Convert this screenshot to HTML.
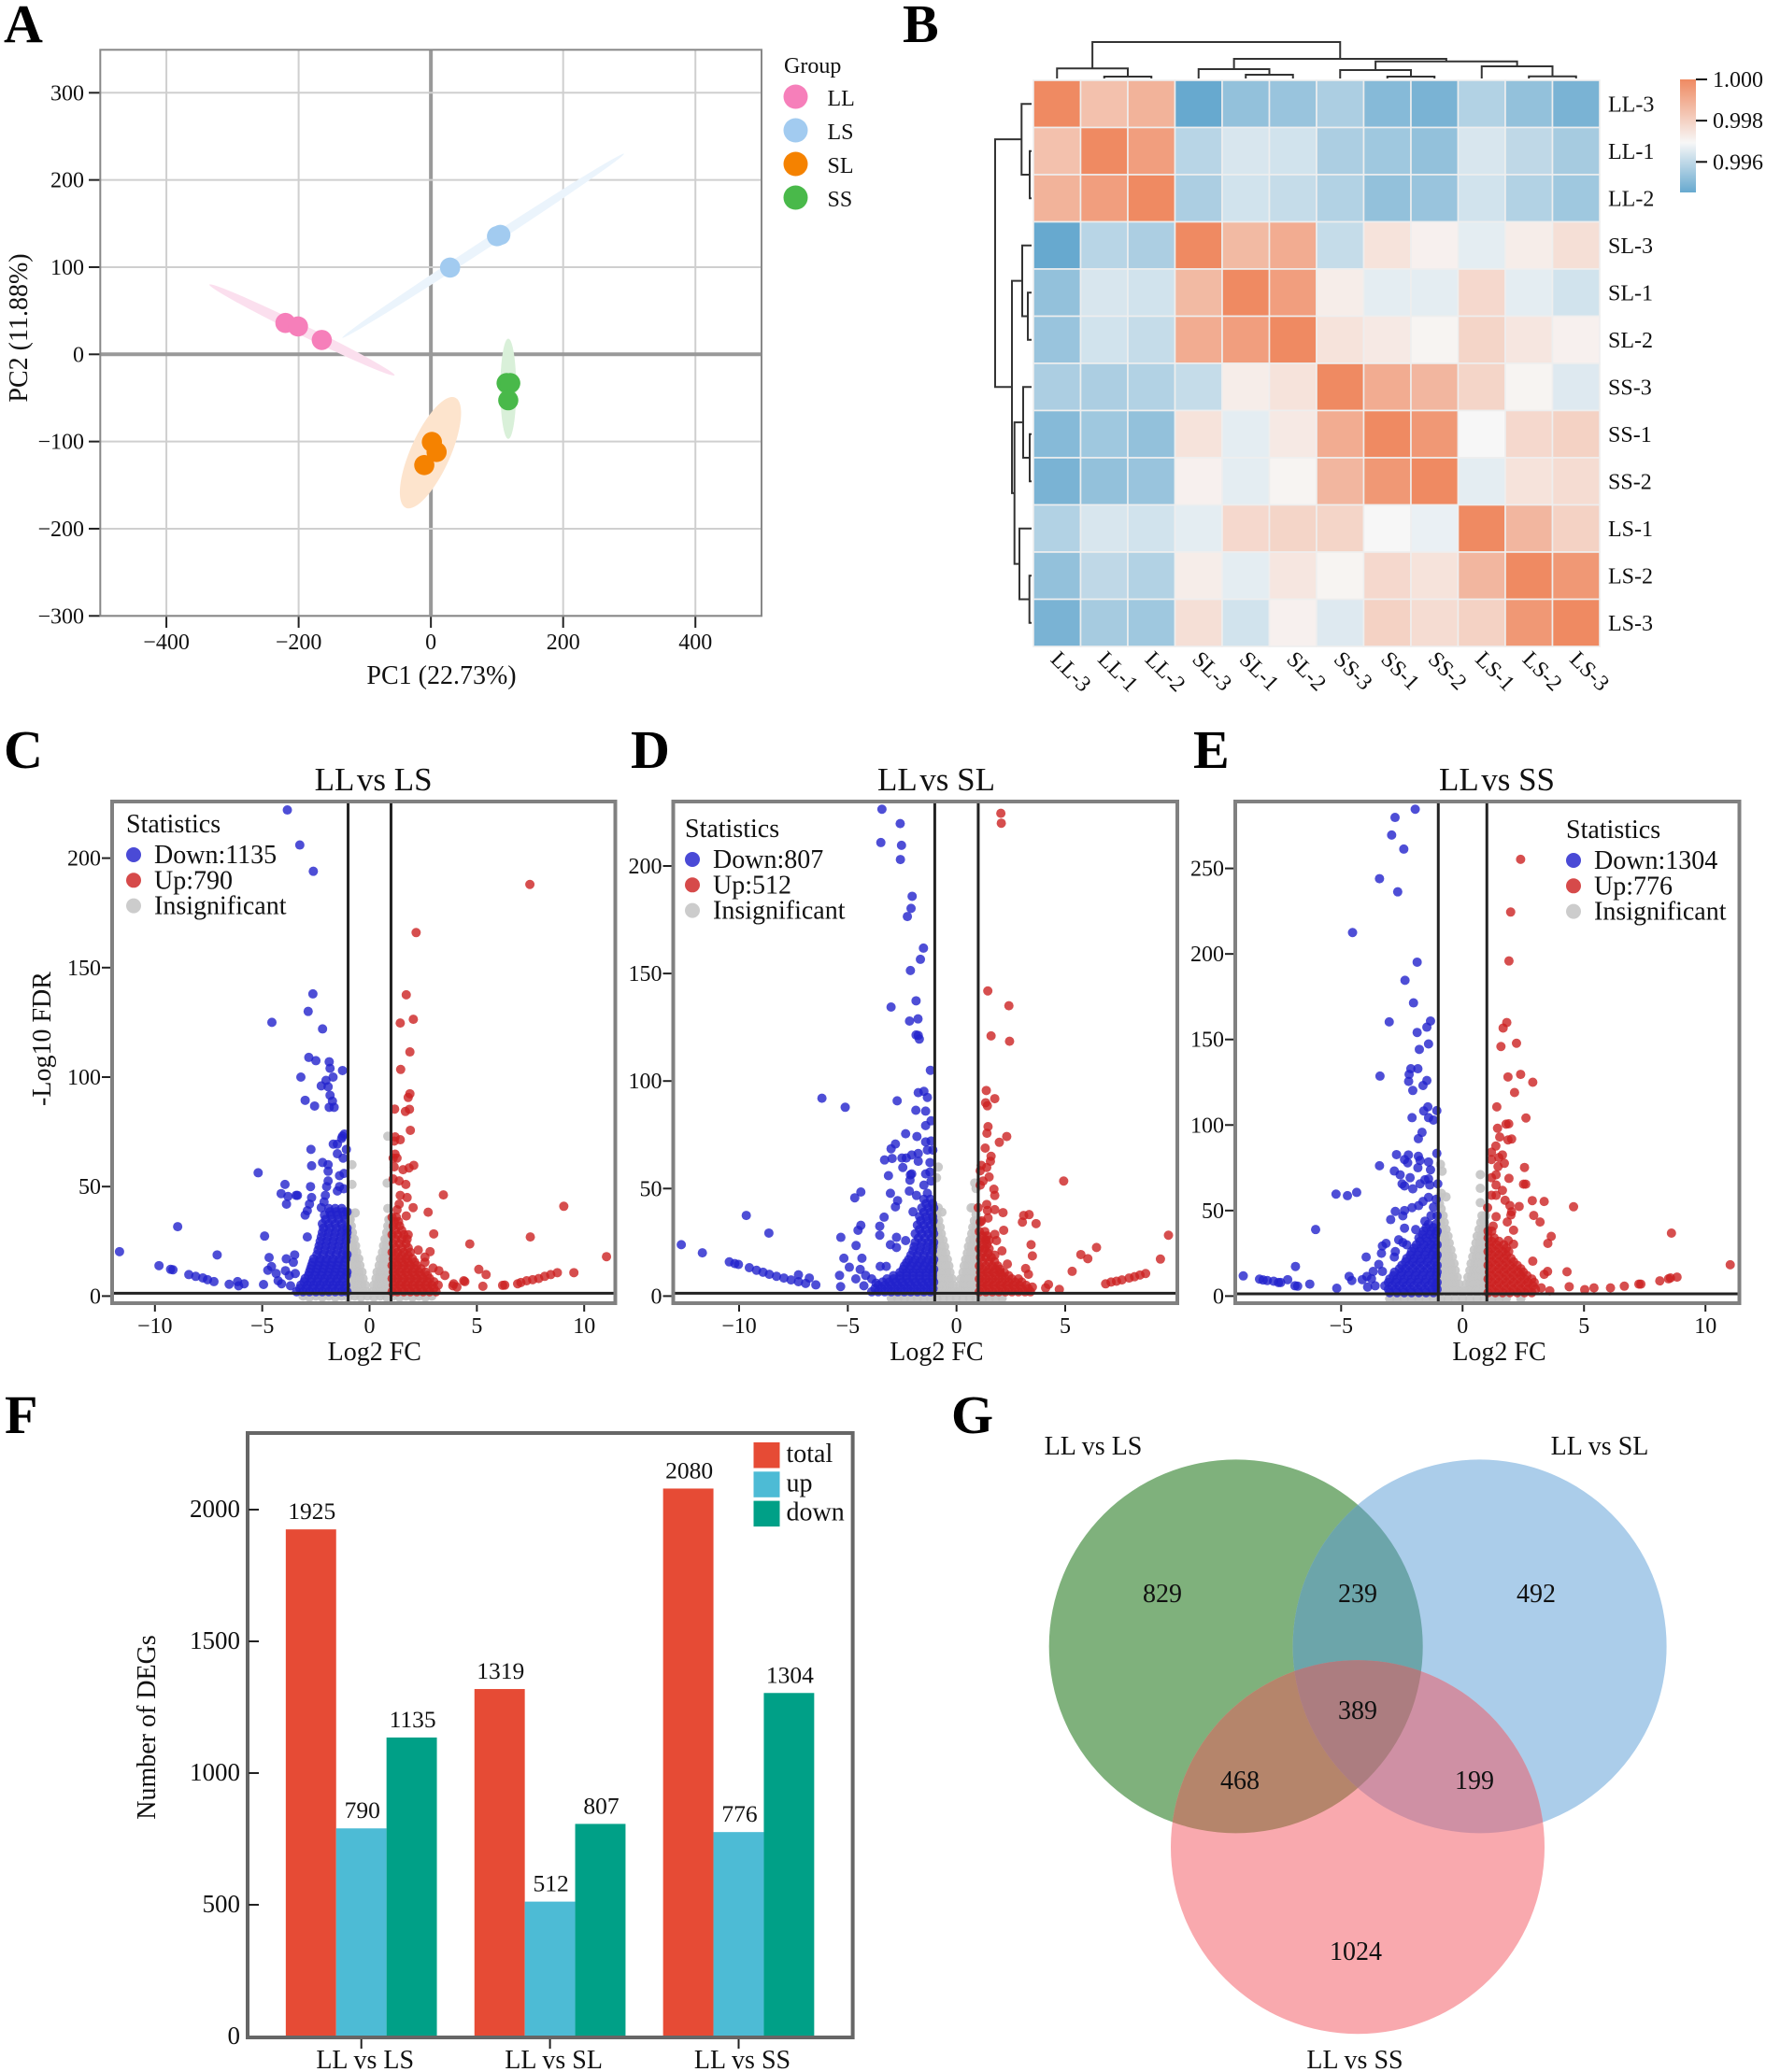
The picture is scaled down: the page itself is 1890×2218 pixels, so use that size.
<!DOCTYPE html>
<html lang="en">
<head>
<meta charset="utf-8">
<title>Transcriptome analysis figure panels A-G</title>
<style>
html,body{margin:0;padding:0;background:#fff;}
svg{display:block;font-family:"Liberation Serif",serif;}
text{fill:#111;}
.letter{font-size:58px;font-weight:bold;fill:#000;}
</style>
</head>
<body>
<svg xmlns="http://www.w3.org/2000/svg" width="1890" height="2218" viewBox="0 0 1890 2218">
<defs>
<linearGradient id="cbGrad" x1="0" y1="0" x2="0" y2="1">
<stop offset="0" stop-color="#ef8a62"/><stop offset="0.56" stop-color="#f7f7f7"/><stop offset="1" stop-color="#67a9cf"/>
</linearGradient>
<clipPath id="clipBlue"><circle cx="1583.6" cy="1762.4" r="200"/></clipPath>
<clipPath id="clipPink"><circle cx="1453" cy="1977.2" r="200"/></clipPath>
</defs>
<rect x="0" y="0" width="1890" height="2218" fill="#fff"/>

<text class="letter" x="4" y="45">A</text>
<text class="letter" x="966" y="45">B</text>
<text class="letter" x="4" y="822">C</text>
<text class="letter" x="675" y="822">D</text>
<text class="letter" x="1277" y="822">E</text>
<text class="letter" x="5" y="1534">F</text>
<text class="letter" x="1018" y="1534">G</text>

<g id="panelA"></g>
<g id="panelB"></g>
<g id="panelC"></g>
<g id="panelD"></g>
<g id="panelE"></g>
<g id="panelF"></g>

<g id="panelG">
<circle cx="1322.7" cy="1762.4" r="200" fill="#7fb17c"/>
<circle cx="1583.6" cy="1762.4" r="200" fill="#abcdea"/>
<circle cx="1453" cy="1977.2" r="200" fill="#f9a9ae"/>
<circle cx="1322.7" cy="1762.4" r="200" fill="#6ca5aa" clip-path="url(#clipBlue)"/>
<circle cx="1322.7" cy="1762.4" r="200" fill="#b5856b" clip-path="url(#clipPink)"/>
<circle cx="1583.6" cy="1762.4" r="200" fill="#cf90a4" clip-path="url(#clipPink)"/>
<g clip-path="url(#clipPink)"><circle cx="1322.7" cy="1762.4" r="200" fill="#ac7d80" clip-path="url(#clipBlue)"/></g>
<g font-size="28" text-anchor="middle">
<text x="1170" y="1557">LL vs LS</text>
<text x="1712" y="1557">LL vs SL</text>
<text x="1450" y="2214">LL vs SS</text>
<text x="1244" y="1715">829</text>
<text x="1453" y="1715">239</text>
<text x="1644" y="1715">492</text>
<text x="1453" y="1840">389</text>
<text x="1327" y="1915">468</text>
<text x="1578" y="1915">199</text>
<text x="1451" y="2098">1024</text>
</g>
</g>
</svg>

<script>
// ---------- Panel A data ----------
const pcaXTicks = [-400,-200,0,200,400];
const pcaYTicks = [-300,-200,-100,0,100,200,300];
const pcaGroups = ['LL','LS','SL','SS'];
const pcaLL = [[-220,36],[-201,32],[-165,16.5]];
const pcaLS = [[29,99.5],[100,135.5],[105,137]];
const pcaSL = [[1.5,-100.5],[8.6,-112],[-10,-127]];
const pcaSS = [[114.5,-33],[120,-33],[117,-52.7]];
const pcaEllipseLL = [-335,80,-55,-24,8];
const pcaEllipseLS = [-134,19,292,230,7];
const pcaEllipseSL = [36.7,-49.6,-38,-176,30];
const pcaEllipseSS = [117,18,117,-97,12];

// ---------- Panel B data ----------
const heatLabels = ['LL-3','LL-1','LL-2','SL-3','SL-1','SL-2','SS-3','SS-1','SS-2','LS-1','LS-2','LS-3'];
const heatMatrix = [
[1.0000,.9984,.9988,.9945,.9952,.9953,.9956,.9950,.9948,.9957,.9952,.9948],
[.9984,1.0000,.9994,.9958,.9963,.9962,.9956,.9954,.9952,.9963,.9959,.9955],
[.9988,.9994,1.0000,.9956,.9962,.9960,.9957,.9952,.9953,.9962,.9957,.9954],
[.9945,.9958,.9956,1.0000,.9986,.9990,.9960,.9974,.9970,.9965,.9971,.9975],
[.9952,.9963,.9962,.9986,1.0000,.9994,.9971,.9965,.9965,.9977,.9965,.9962],
[.9953,.9962,.9960,.9990,.9994,1.0000,.9974,.9972,.9969,.9978,.9973,.9970],
[.9956,.9956,.9957,.9960,.9971,.9974,1.0000,.9990,.9987,.9978,.9969,.9964],
[.9950,.9954,.9952,.9974,.9965,.9972,.9990,1.0000,.9996,.9968,.9977,.9979],
[.9948,.9952,.9953,.9970,.9965,.9969,.9987,.9996,1.0000,.9965,.9974,.9976],
[.9957,.9963,.9962,.9965,.9977,.9978,.9978,.9968,.9966,1.0000,.9987,.9979],
[.9952,.9959,.9957,.9971,.9965,.9973,.9969,.9977,.9974,.9987,1.0000,.9996],
[.9948,.9955,.9954,.9975,.9962,.9970,.9964,.9979,.9976,.9979,.9996,1.0000]
];
const colorbarTicks = [1.000,0.998,0.996];
const dendroMerges = [[1,2,2],[0,12,10.7],[4,5,4],[3,14,10],[7,8,2],[6,16,9],[10,11,2.3],[9,18,13],[17,19,18.3],[15,20,21],[13,21,39]];

// ---------- Panel C data ----------
const cXTicks = [-10,-5,0,5,10];
const cYTicks = [0,50,100,150,200];
const cCounts = ['Down:1135','Up:790','Insignificant'];
const cDown = [[-3.83,222],[-3.25,206],[-2.62,194],[-2.64,138],[-2.86,130],[-4.55,125],[-2.19,122],[-2.83,109],[-2.5,107.5],[-1.88,107],[-1.84,104],[-1.26,103],[-3.2,100],[-1.7,100],[-2.03,98.5],[-2.25,96],[-1.93,95.6],[-1.84,91.7],[-1.73,89],[-3,89.4],[-2.56,86.8],[-1.88,86.2],[-1.65,86.2],[-1.17,74],[-1.26,73],[-1.3,72],[-1.69,69.4],[-1.5,69.4],[-2.73,67],[-1.08,67],[-1.5,65],[-1.23,63],[-2.19,61],[-1.93,60],[-2.7,59.5],[-1.93,57],[-5.19,56.3],[-1.4,55],[-1.19,56],[-3.94,51],[-2.75,50],[-1.93,52.6],[-2,50],[-1.4,50],[-1.5,48],[-1.2,49],[-4.12,46.8],[-3.8,45.5],[-3.36,46],[-3.42,46],[-2.7,45],[-2.06,46],[-2.8,42],[-3.87,42],[-2.9,39],[-3,37],[-2.25,40.4],[-2.12,43],[-2.9,27],[-4.89,27.4],[-8.94,31.7],[-11.65,20.3],[-9.81,13.9],[-9.27,12.2],[-9.16,12],[-8.42,9.8],[-8.1,9],[-7.77,8.3],[-7.55,7.5],[-7.25,6.6],[-7.1,18.8],[-6.54,5.4],[-6.15,6.6],[-6.1,4.7],[-5.84,5.6],[-4.94,5.3],[-4.68,17.6],[-3.88,17],[-3.49,18.8],[-3.55,15.4],[-4.57,13.5],[-4.74,11.8],[-4.35,10.3],[-3.92,11.6],[-4.26,7],[-4.1,5.6],[-3.74,9.4],[-3.46,10.3],[-3.68,4.7],
[-3.4,2],[-3.1,2],[-2.8,2],[-2.5,2],[-2.2,2],[-1.9,2],[-1.6,2],[-1.3,2],[-1.05,2],[-3.2,5],[-2.9,5],[-2.6,5],[-2.3,5],[-2,5],[-1.7,5],[-1.4,5],[-1.1,5],[-3,8],[-2.7,8],[-2.4,8],[-2.1,8],[-1.8,8],[-1.5,8],[-1.2,8],[-2.8,11],[-2.5,11],[-2.2,11],[-1.9,11],[-1.6,11],[-1.3,11],[-1.05,11],[-2.7,14],[-2.4,14],[-2.1,14],[-1.8,14],[-1.5,14],[-1.2,14],[-2.6,17],[-2.3,17],[-2,17],[-1.7,17],[-1.4,17],[-1.1,17],[-2.4,21],[-2.1,21],[-1.8,21],[-1.5,21],[-1.2,21],[-2.3,25],[-2,25],[-1.7,25],[-1.4,25],[-1.1,25],[-2.2,29],[-1.9,29],[-1.6,29],[-1.3,29],[-1.05,29],[-2.2,33],[-1.9,33],[-1.6,33],[-1.3,33],[-2.1,37],[-1.8,37],[-1.5,37],[-1.2,37],[-1.9,40],[-1.6,40],[-1.3,40],
[-3.25,3.5],[-2.95,3.5],[-2.65,3.5],[-2.35,3.5],[-2.05,3.5],[-1.75,3.5],[-1.45,3.5],[-1.15,3.5],[-3.05,6.5],[-2.75,6.5],[-2.45,6.5],[-2.15,6.5],[-1.85,6.5],[-1.55,6.5],[-1.25,6.5],[-2.85,9.5],[-2.55,9.5],[-2.25,9.5],[-1.95,9.5],[-1.65,9.5],[-1.35,9.5],[-1.08,9.5],[-2.75,12.5],[-2.45,12.5],[-2.15,12.5],[-1.85,12.5],[-1.55,12.5],[-1.25,12.5],[-2.65,15.5],[-2.35,15.5],[-2.05,15.5],[-1.75,15.5],[-1.45,15.5],[-1.15,15.5],[-2.45,19],[-2.15,19],[-1.85,19],[-1.55,19],[-1.25,19],[-1.05,19],[-2.35,23],[-2.05,23],[-1.75,23],[-1.45,23],[-1.15,23],[-2.25,27],[-1.95,27],[-1.65,27],[-1.35,27],[-1.08,27],[-2.15,31],[-1.85,31],[-1.55,31],[-1.25,31],[-1.05,31],[-2.05,35],[-1.75,35],[-1.45,35],[-1.15,35],[-1.85,38.5],[-1.55,38.5],[-1.25,38.5],[-1.05,38.5]];
const cUp = [[7.47,188],[2.17,166],[1.71,137.6],[2.04,126.4],[1.43,124.7],[1.88,111.5],[1.45,103.5],[1.88,92.4],[1.8,90.7],[1.17,85.4],[1.67,84.3],[1.86,85.3],[1.9,75.7],[1.19,72.7],[1.43,71.4],[1.15,70.8],[1.19,64.8],[1.1,63],[1.28,63],[1.15,59],[2.06,59.7],[1.84,58.5],[1.56,57.7],[1.1,53.5],[1.38,52.6],[1.69,51],[3.44,46.2],[1.43,46],[1.75,45],[1.38,42],[1.28,39.4],[2.03,40.4],[2.73,38.3],[1.71,36.6],[2.99,28.4],[4.67,23.8],[7.49,27],[9.05,41],[11.04,18],[9.52,10.7],[8.75,10.7],[8.44,9.8],[8.16,9],[7.88,8],[7.6,7.5],[7.32,7],[7.05,6.2],[6.9,5.6],[6.3,5],[6.2,4.9],[5.28,4.5],[5.43,9.8],[5.09,12.2],[4.44,6.6],[4.39,7],[3.92,5.6],[3.88,4.7],[4.07,4.1],[3.51,9.4],[3.23,11.6],[2.96,12.8],[2.58,15.4],[2.82,20.3],[2.27,21],[2.58,17.8],
[1.05,2],[1.3,2],[1.6,2],[1.9,2],[2.2,2],[2.5,2],[2.8,2],[3.1,2],[1.1,5],[1.4,5],[1.7,5],[2,5],[2.3,5],[2.6,5],[2.9,5],[3.2,5],[1.05,8],[1.3,8],[1.6,8],[1.9,8],[2.2,8],[2.5,8],[2.8,8],[1.1,11],[1.4,11],[1.7,11],[2,11],[2.3,11],[2.6,11],[1.05,14],[1.3,14],[1.6,14],[1.9,14],[2.2,14],[1.1,17],[1.4,17],[1.7,17],[2,17],[1.05,20],[1.3,20],[1.6,20],[1.9,20],[1.1,24],[1.4,24],[1.7,24],[1.05,28],[1.3,28],[1.6,28],[1.8,28],[1.1,32],[1.4,32],[1.05,36],[1.25,36],
[1.2,3.5],[1.5,3.5],[1.8,3.5],[2.1,3.5],[2.4,3.5],[2.7,3.5],[3,3.5],[1.2,6.5],[1.5,6.5],[1.8,6.5],[2.1,6.5],[2.4,6.5],[2.7,6.5],[3,6.5],[1.2,9.5],[1.5,9.5],[1.8,9.5],[2.1,9.5],[2.4,9.5],[2.7,9.5],[1.2,12.5],[1.5,12.5],[1.8,12.5],[2.1,12.5],[2.4,12.5],[1.2,15.5],[1.5,15.5],[1.8,15.5],[2.1,15.5],[1.2,18.5],[1.5,18.5],[1.8,18.5],[1.2,22],[1.5,22],[1.8,22],[1.2,26],[1.5,26],[1.75,26],[1.2,30],[1.5,30],[1.15,34],[1.35,34]];
const cGray = [[-3.1,0],[-2.8,-.5],[-2.5,0],[-2.2,-.5],[-1.9,0],[-1.6,-.5],[-1.3,0],[-1,-.5],[-.7,0],[-.4,-.5],[-.1,0],[.2,-.5],[.5,0],[.8,-.5],[1.1,0],[1.4,-.5],[1.7,0],[2,-.5],[2.3,0],[2.6,-.5],[2.9,0],
[-.82,60],[-.82,51],[-.67,38],[.85,73],[.82,51.6],[.85,40],
[-.95,38],[-.95,35],[-.9,35],[-.95,32],[-.85,32],[-.95,29],[-.8,29],[-.85,26],[-.72,26],[-.95,23],[-.8,23],[-.65,23],[-.9,20],[-.75,20],[-.6,20],[-.95,17],[-.8,17],[-.65,17],[-.5,17],[-.9,14],[-.75,14],[-.6,14],[-.45,14],[-.95,11],[-.8,11],[-.65,11],[-.5,11],[-.35,11],[-.9,8],[-.75,8],[-.6,8],[-.45,8],[-.3,8],[-.95,5],[-.8,5],[-.65,5],[-.5,5],[-.35,5],[-.2,5],[-.9,2],[-.75,2],[-.6,2],[-.45,2],[-.3,2],[-.12,2],
[.95,35],[.9,35],[.95,32],[.85,32],[.95,29],[.8,29],[.85,26],[.72,26],[.95,23],[.8,23],[.65,23],[.9,20],[.75,20],[.6,20],[.95,17],[.8,17],[.65,17],[.5,17],[.9,14],[.75,14],[.6,14],[.45,14],[.95,11],[.8,11],[.65,11],[.5,11],[.35,11],[.9,8],[.75,8],[.6,8],[.45,8],[.3,8],[.95,5],[.8,5],[.65,5],[.5,5],[.35,5],[.2,5],[.9,2],[.75,2],[.6,2],[.45,2],[.3,2],[.12,2]];

// ---------- Panel D data ----------
const dXTicks = [-10,-5,0,5];
const dYTicks = [0,50,100,150,200];
const dCounts = ['Down:807','Up:512','Insignificant'];
const dDown = [[-3.43,226.4],[-2.59,219.7],[-3.48,210.9],[-2.53,209.6],[-2.58,203],[-2.04,185.9],[-2.09,180.3],[-2.26,176.5],[-1.52,161.8],[-1.66,156.6],[-2.12,151.4],[-1.86,137.3],[-3.01,134.4],[-1.77,128.9],[-2.16,127.9],[-1.86,121.4],[-1.76,121.2],[-1.71,119.5],[-1.2,105],[-1.5,95.2],[-1.76,94.6],[-1.34,92.4],[-6.19,92],[-5.12,87.8],[-2.73,90.8],[-1.87,86.4],[-1.42,86],[-1.17,81.5],[-1.42,79.3],[-2.34,75.5],[-1.82,74.2],[-1.42,71.7],[-1.17,72.1],[-2.81,70.7],[-3.01,68.5],[-1.09,67.9],[-1.34,67.9],[-1.76,66.3],[-2.06,65.6],[-3.31,63.3],[-2.96,64],[-2.51,64.2],[-2.31,64.2],[-1.76,62.7],[-1.22,62.1],[-2.47,59.8],[-2.06,56.8],[-2.12,56.4],[-3.13,56],[-2.14,53.9],[-1.42,56.8],[-1.22,57.7],[-1.5,51.6],[-1.17,53.5],[-4.4,48.4],[-4.68,45.7],[-3.04,47.8],[-2.17,48.8],[-1.84,46.8],[-1.34,47.8],[-2.71,44.4],[-2.81,41.5],[-2,39.2],[-3.33,36.7],[-4.4,32.9],[-4.53,30.6],[-3.53,32.5],[-3.53,28.3],[-5.32,27.3],[-4.62,23.5],[-2.76,27.3],[-3.04,23.9],[-2.76,22.6],[-2.34,25.8],[-9.67,37.5],[-8.63,29.3],[-12.66,23.9],[-11.69,20.1],[-10.45,15.9],[-10.2,15.1],[-10.03,14.7],[-9.53,13.2],[-9.2,12],[-8.9,11.1],[-8.61,10.1],[-8.28,9.2],[-7.94,8.4],[-7.61,7.5],[-7.27,6.7],[-6.94,5.9],[-7.27,9.9],[-6.77,8.4],[-6.47,5.2],[-5.38,9.6],[-5.33,4.4],[-5.18,17.6],[-4.35,17.6],[-4.93,13.4],[-4.43,12.4],[-4.63,8],[-4.18,9.6],[-4.26,4.8],[-3.51,13.8],[-3.23,13.8],[-3.9,8],[-3.7,6],
[-3.9,2],[-3.6,2],[-3.3,2],[-3,2],[-2.7,2],[-2.4,2],[-2.1,2],[-1.8,2],[-1.5,2],[-1.2,2],[-3.6,5],[-3.3,5],[-3,5],[-2.7,5],[-2.4,5],[-2.1,5],[-1.8,5],[-1.5,5],[-1.2,5],[-3.2,8],[-2.9,8],[-2.6,8],[-2.3,8],[-2,8],[-1.7,8],[-1.4,8],[-1.1,8],[-2.6,11],[-2.3,11],[-2,11],[-1.7,11],[-1.4,11],[-1.1,11],[-2.4,14],[-2.1,14],[-1.8,14],[-1.5,14],[-1.2,14],[-2.2,17],[-1.9,17],[-1.6,17],[-1.3,17],[-1.05,17],[-2,21],[-1.7,21],[-1.4,21],[-1.1,21],[-1.9,25],[-1.6,25],[-1.3,25],[-1.05,25],[-1.9,29],[-1.6,29],[-1.3,29],[-1.05,29],[-1.8,33],[-1.5,33],[-1.2,33],[-1.7,37],[-1.4,37],[-1.1,37],[-1.6,41],[-1.3,41],[-1.05,41],[-1.5,45],[-1.2,45],
[-3.75,3.5],[-3.45,3.5],[-3.15,3.5],[-2.85,3.5],[-2.55,3.5],[-2.25,3.5],[-1.95,3.5],[-1.65,3.5],[-1.35,3.5],[-1.08,3.5],[-3.4,6.5],[-3.1,6.5],[-2.8,6.5],[-2.5,6.5],[-2.2,6.5],[-1.9,6.5],[-1.6,6.5],[-1.3,6.5],[-1.05,6.5],[-2.9,9.5],[-2.6,9.5],[-2.3,9.5],[-2,9.5],[-1.7,9.5],[-1.4,9.5],[-1.1,9.5],[-2.45,12.5],[-2.15,12.5],[-1.85,12.5],[-1.55,12.5],[-1.25,12.5],[-1.05,12.5],[-2.3,15.5],[-2,15.5],[-1.7,15.5],[-1.4,15.5],[-1.1,15.5],[-2.1,19],[-1.8,19],[-1.5,19],[-1.2,19],[-1.95,23],[-1.65,23],[-1.35,23],[-1.08,23],[-1.75,27],[-1.45,27],[-1.15,27],[-1.7,31],[-1.4,31],[-1.1,31],[-1.65,35],[-1.35,35],[-1.08,35],[-1.5,39],[-1.2,39],[-1.4,43],[-1.1,43]];
const dUp = [[2.04,224.5],[2.06,219.9],[1.44,141.9],[2.41,135],[1.59,121],[2.44,118.5],[1.37,95.6],[1.76,91.8],[1.34,89.9],[1.42,88.5],[1.45,78.8],[1.4,75.7],[2.31,74.2],[1.97,71.5],[1.32,68.8],[1.59,65],[1.56,62.7],[1.14,60.8],[1.39,59.8],[1.09,58.3],[1.5,55.4],[1.22,53.5],[1.09,51.6],[4.93,53.5],[1.72,49.7],[1.76,46.8],[1.39,42.6],[1,41.1],[1.42,39.8],[1.76,40.2],[2.14,38.8],[3.09,37.5],[3.34,37.9],[3.03,34.4],[3.66,33.7],[1.45,36.3],[1.09,34.4],[2.17,30.6],[1.76,28.7],[1.84,25.8],[3.43,23.9],[3.49,18.7],[9.75,28.3],[9.38,17.2],[6.44,22.6],[5.72,19.3],[6.04,17.4],[5.32,11.5],[8.7,10.5],[8.44,9.8],[8.19,9],[7.94,8.4],[7.61,7.5],[7.36,6.9],[7.11,6.5],[6.86,5.7],[4.73,3.1],[4.23,5.4],[4.1,3.8],[2.34,14.9],[3.18,12.8],[3.31,10.1],[3.49,4.2],[2.09,21],[1.76,19],
[1.05,2],[1.35,2],[1.65,2],[1.95,2],[2.25,2],[2.55,2],[2.85,2],[3.15,2],[3.4,2],[1.1,5],[1.4,5],[1.7,5],[2,5],[2.3,5],[2.6,5],[2.9,5],[3.2,5],[1.05,8],[1.35,8],[1.65,8],[1.95,8],[2.25,8],[2.55,8],[2.85,8],[1.1,11],[1.4,11],[1.7,11],[2,11],[2.2,11],[1.05,14],[1.35,14],[1.65,14],[1.9,14],[1.1,18],[1.35,18],[1.6,18],[1.05,22],[1.3,22],[1.5,22],[1.1,26],[1.35,26],[1.5,26],[1.05,30],[1.3,30],[1.15,35],
[1.2,3.5],[1.5,3.5],[1.8,3.5],[2.1,3.5],[2.4,3.5],[2.7,3.5],[3,3.5],[3.3,3.5],[1.2,6.5],[1.5,6.5],[1.8,6.5],[2.1,6.5],[2.4,6.5],[2.7,6.5],[3,6.5],[1.2,9.5],[1.5,9.5],[1.8,9.5],[2.1,9.5],[2.4,9.5],[1.2,12.5],[1.5,12.5],[1.8,12.5],[2,12.5],[1.2,16],[1.5,16],[1.75,16],[1.2,20],[1.45,20],[1.2,24],[1.4,24],[1.2,28],[1.4,28]];
const dGray = [[-3,-1],[-2.7,-1.2],[-2.4,-1],[-2.1,-1.2],[-1.8,-1],[-1.5,-1.2],[-1.2,-1],[-.9,-1.2],[-.6,-1],[-.3,-1.2],[0,-1],[.3,-1.2],[.6,-1],[.9,-1.2],[1.2,-1],[1.5,-1.2],[1.8,-1],[2.1,-1],
[-.84,60],[-.92,55],[-.84,41],[-.67,39],[.84,52.6],[.9,50],[.67,41],[.75,41],
[-.9,38],[-.95,35],[-.82,35],[-.9,32],[-.75,32],[-.85,29],[-.7,29],[-.92,26],[-.77,26],[-.62,26],[-.85,23],[-.7,23],[-.55,23],[-.95,20],[-.8,20],[-.65,20],[-.5,20],[-.87,17],[-.72,17],[-.57,17],[-.42,17],[-.95,14],[-.8,14],[-.65,14],[-.5,14],[-.35,14],[-.9,11],[-.75,11],[-.6,11],[-.45,11],[-.3,11],[-.95,8],[-.8,8],[-.65,8],[-.5,8],[-.35,8],[-.2,8],[-.9,5],[-.75,5],[-.6,5],[-.45,5],[-.3,5],[-.15,5],[-.95,2],[-.8,2],[-.65,2],[-.5,2],[-.35,2],[-.2,2],[-.08,2],
[.9,38],[.95,35],[.82,35],[.9,32],[.75,32],[.85,29],[.7,29],[.92,26],[.77,26],[.62,26],[.85,23],[.7,23],[.55,23],[.95,20],[.8,20],[.65,20],[.5,20],[.87,17],[.72,17],[.57,17],[.42,17],[.95,14],[.8,14],[.65,14],[.5,14],[.35,14],[.9,11],[.75,11],[.6,11],[.45,11],[.3,11],[.95,8],[.8,8],[.65,8],[.5,8],[.35,8],[.2,8],[.9,5],[.75,5],[.6,5],[.45,5],[.3,5],[.15,5],[.95,2],[.8,2],[.65,2],[.5,2],[.35,2],[.2,2],[.08,2]];

// ---------- Panel E data ----------
const eXTicks = [-5,0,5,10];
const eYTicks = [0,50,100,150,200,250];
const eCounts = ['Down:1304','Up:776','Insignificant'];
const eDown = [[-1.95,284.6],[-2.78,279.8],[-2.92,269.5],[-2.42,261.3],[-3.42,244],[-2.67,236.3],[-4.53,212.5],[-1.87,195.2],[-2.37,184.6],[-2.02,171.4],[-1.32,160.8],[-3.02,160.3],[-1.47,157.2],[-1.87,154.1],[-1.4,147.4],[-1.78,144.2],[-2.13,132.9],[-1.84,132.9],[-2.2,129.6],[-3.4,128.6],[-2.22,125.5],[-1.47,126],[-1.63,123.1],[-2.05,120.2],[-1.43,110.6],[-1.6,108.2],[-1.06,108.4],[-2.08,104.3],[-1.4,104.3],[-1.2,102.9],[-1.67,95.7],[-1.82,92],[-1.06,83.4],[-2.72,82.7],[-2.23,82.5],[-2.39,79.8],[-2.26,77.9],[-1.82,81.7],[-1.75,79.3],[-1.4,78.4],[-3.42,76.2],[-1.84,75],[-1.32,73.8],[-2.81,73.1],[-2.57,70.9],[-2.16,69.2],[-1.55,68],[-1.4,68.5],[-1.75,65.6],[-2.49,65.6],[-2.39,64.4],[-2.05,62.7],[-1.35,64.9],[-1.02,65.6],[-5.21,59.6],[-4.74,58.7],[-4.36,60.6],[-1.4,57.7],[-1.09,56.5],[-1.81,52.9],[-1.63,55.3],[-2.77,49.5],[-2.39,50],[-2.08,51.7],[-2.96,44.7],[-2.46,46.9],[-1.55,43.8],[-6.05,38.9],[-2.39,39.7],[-1.93,38.9],[-3.15,30.8],[-3.3,29.3],[-2.63,32.9],[-2.46,31.3],[-3.97,22.8],[-3.34,25],[-2.77,26],[-2.81,22.8],[-6.88,17.3],[-3.45,18.5],[-3.68,14.4],[-3.3,14.4],[-4.67,11.5],[-4.56,9.1],[-4.13,9.6],[-3.94,11.5],[-3.75,10.1],[-3.91,5.3],[-3.6,6],[-9.03,11.8],[-8.36,9.9],[-8.21,9.4],[-8.04,9.1],[-7.78,8.7],[-7.58,7.9],[-7.49,7.9],[-7.2,9.6],[-6.9,6],[-6.79,5.8],[-6.29,7],[-5.18,4.6],
[-3,2],[-2.7,2],[-2.4,2],[-2.1,2],[-1.8,2],[-1.5,2],[-1.2,2],[-3.2,6],[-2.9,6],[-2.6,6],[-2.3,6],[-2,6],[-1.7,6],[-1.4,6],[-1.1,6],[-3,10],[-2.7,10],[-2.4,10],[-2.1,10],[-1.8,10],[-1.5,10],[-1.2,10],[-2.8,14],[-2.5,14],[-2.2,14],[-1.9,14],[-1.6,14],[-1.3,14],[-1.05,14],[-2.5,18],[-2.2,18],[-1.9,18],[-1.6,18],[-1.3,18],[-1.05,18],[-2.3,22],[-2,22],[-1.7,22],[-1.4,22],[-1.1,22],[-2.1,26],[-1.8,26],[-1.5,26],[-1.2,26],[-2.3,30],[-1.9,30],[-1.6,30],[-1.3,30],[-1.05,30],[-1.8,34],[-1.5,34],[-1.2,34],[-1.6,38],[-1.3,38],[-1.05,38],[-1.4,42],[-1.1,42],[-1.3,47],[-1.05,47],[-1.2,52],
[-3.05,4],[-2.75,4],[-2.45,4],[-2.15,4],[-1.85,4],[-1.55,4],[-1.25,4],[-1.05,4],[-3.05,8],[-2.75,8],[-2.45,8],[-2.15,8],[-1.85,8],[-1.55,8],[-1.25,8],[-1.05,8],[-2.85,12],[-2.55,12],[-2.25,12],[-1.95,12],[-1.65,12],[-1.35,12],[-1.08,12],[-2.6,16],[-2.35,16],[-2.05,16],[-1.75,16],[-1.45,16],[-1.15,16],[-2.35,20],[-2.05,20],[-1.75,20],[-1.45,20],[-1.15,20],[-2.15,24],[-1.85,24],[-1.55,24],[-1.25,24],[-1.05,24],[-2,28],[-1.7,28],[-1.4,28],[-1.15,28],[-1.75,32],[-1.45,32],[-1.15,32],[-1.65,36],[-1.35,36],[-1.1,36],[-1.5,40],[-1.2,40]];
const eUp = [[2.39,255.3],[1.98,224.5],[1.91,195.9],[1.82,159.9],[1.67,156.7],[1.58,145.9],[2.22,147.8],[2.39,129.6],[1.87,128.1],[2.89,125],[2.14,119],[1.41,110.6],[2.61,104.1],[1.79,100.5],[1.9,100.7],[1.44,98.1],[1.53,93],[1.87,91.3],[2.02,91.8],[1.37,87.7],[1.19,84.1],[1.64,82.5],[1.49,81],[1.19,79.8],[1.72,77.6],[1.46,75.7],[2.55,75.2],[1.38,70.9],[1.19,69.2],[1.91,68.8],[1.38,64.9],[2.51,65.4],[2.6,65.4],[1.64,61.8],[1.19,58.9],[1.38,58.9],[1.75,56],[1.95,52.9],[2.87,55.8],[3.36,55.3],[2.33,52.4],[4.57,52.2],[2.02,49.3],[1.99,47.4],[1.38,46.4],[2.93,47.1],[3.19,43.3],[1.84,43.3],[2.1,38.5],[1.26,40.9],[1.03,51.7],[3.65,34.9],[3.51,30.8],[1.88,32.5],[2.1,30.3],[8.6,36.8],[11.02,18.3],[2.89,20.4],[4.3,14.2],[3.5,14.4],[3.36,12.7],[4.39,5.5],[5.03,3.8],[5.41,4.8],[6.09,4.8],[6.66,5.8],[7.26,7],[7.34,7],[8.12,8.9],[8.48,10.1],[8.56,10.6],[8.83,11.1],[3.59,3.1],[3.24,4.8],
[1.05,2],[1.35,2],[1.65,2],[1.95,2],[2.25,2],[2.55,2],[2.85,2],[1.1,6],[1.4,6],[1.7,6],[2,6],[2.3,6],[2.6,6],[2.9,6],[1.05,10],[1.35,10],[1.65,10],[1.95,10],[2.25,10],[2.55,10],[2.85,10],[1.1,14],[1.4,14],[1.7,14],[2,14],[2.3,14],[2.5,14],[1.05,18],[1.35,18],[1.65,18],[1.95,18],[2.25,18],[1.1,22],[1.4,22],[1.7,22],[2,22],[1.05,26],[1.35,26],[1.65,26],[1.9,26],[1.1,30],[1.4,30],[1.7,30],[1.05,34],[1.3,34],[1.05,38],[1.2,38],
[1.2,4],[1.5,4],[1.8,4],[2.1,4],[2.4,4],[2.7,4],[3,4],[1.2,8],[1.5,8],[1.8,8],[2.1,8],[2.4,8],[2.7,8],[2.95,8],[1.2,12],[1.5,12],[1.8,12],[2.1,12],[2.4,12],[2.65,12],[1.2,16],[1.5,16],[1.8,16],[2.1,16],[2.4,16],[1.2,20],[1.5,20],[1.8,20],[2.1,20],[1.2,24],[1.5,24],[1.8,24],[1.2,28],[1.5,28],[1.8,28],[1.2,32],[1.5,32]];
const eGray = [[-3,-1.5],[-2.7,-1.8],[-2.4,-1.5],[-2.1,-1.8],[-1.8,-1.5],[-1.5,-1.8],[-1.2,-1.5],[-.9,-1.8],[-.6,-1.5],[-.3,-1.8],[0,-1.5],[.3,-1.8],[.6,-1.5],[.9,-1.8],[1.2,-1.5],[1.5,-1.8],[1.8,-1.5],[2.4,-1.5],
[-.91,77],[-.84,73],[-.87,60],[-.68,58],[-.95,58],[-.95,54],[.73,71],[.73,63],[.73,54.6],[.85,45],
[-.88,51],[-.8,47],[-.95,47],[-.75,43],[-.9,43],[-.68,39],[-.83,39],[-.97,39],[-.6,35],[-.75,35],[-.9,35],[-.55,31],[-.7,31],[-.85,31],[-.48,27],[-.63,27],[-.78,27],[-.93,27],[-.42,23],[-.57,23],[-.72,23],[-.87,23],[-.35,19],[-.5,19],[-.65,19],[-.8,19],[-.95,19],[-.3,15],[-.45,15],[-.6,15],[-.75,15],[-.9,15],[-.22,11],[-.37,11],[-.52,11],[-.67,11],[-.82,11],[-.97,11],[-.15,7],[-.3,7],[-.45,7],[-.6,7],[-.75,7],[-.9,7],[-.1,3],[-.25,3],[-.4,3],[-.55,3],[-.7,3],[-.85,3],[-.97,3],
[.8,47],[.95,47],[.75,43],[.9,43],[.68,39],[.83,39],[.97,39],[.6,35],[.75,35],[.9,35],[.55,31],[.7,31],[.85,31],[.48,27],[.63,27],[.78,27],[.93,27],[.42,23],[.57,23],[.72,23],[.87,23],[.35,19],[.5,19],[.65,19],[.8,19],[.95,19],[.3,15],[.45,15],[.6,15],[.75,15],[.9,15],[.22,11],[.37,11],[.52,11],[.67,11],[.82,11],[.97,11],[.15,7],[.3,7],[.45,7],[.6,7],[.75,7],[.9,7],[.1,3],[.25,3],[.4,3],[.55,3],[.7,3],[.85,3],[.97,3]];

// ---------- Panel F data ----------
const barCategories = ['LL vs LS','LL vs SL','LL vs SS'];
const barTotal = [1925,1319,2080];
const barUp = [790,512,776];
const barDownCounts = [1135,807,1304];
const barYTicks = [0,500,1000,1500,2000];

// ---------- helpers ----------
const SVGNS = 'http://www.w3.org/2000/svg';
function mk(parent, tag, attrs, txt){
  const el = document.createElementNS(SVGNS, tag);
  for (const k in attrs) el.setAttribute(k, attrs[k]);
  if (txt !== undefined) el.textContent = txt;
  parent.appendChild(el);
  return el;
}
function linear(d0, d1, r0, r1){ return v => r0 + (v - d0) * (r1 - r0) / (d1 - d0); }
function fmt(v){ return String(v).replace('-', '\u2212'); }

// ---------- Panel A ----------
(function(){
  const g = document.getElementById('panelA');
  const x = linear(-500, 500, 107.3, 815);
  const y = linear(-300, 300, 659.3, 99.3);
  pcaXTicks.forEach(t => {
    const line = mk(g,'line',{x1:x(t),x2:x(t),y1:53,y2:659,stroke:t===0?'#999':'#cfcfcf','stroke-width':t===0?4:2});
    
    
    const tick = mk(g,'line',{x1:x(t),x2:x(t),y1:659,y2:672,stroke:'#222','stroke-width':2});
    
    
    const lab = mk(g,'text',{x:x(t),y:695,'font-size':24,'text-anchor':'middle'},fmt(t));
    
    
  });
  pcaYTicks.forEach(t => {
    const line = mk(g,'line',{x1:107,x2:815,y1:y(t),y2:y(t),stroke:t===0?'#999':'#cfcfcf','stroke-width':t===0?4:2});
    
    
    const tick = mk(g,'line',{x1:95,x2:107,y1:y(t),y2:y(t),stroke:'#222','stroke-width':2});
    
    
    const lab = mk(g,'text',{x:90,y:y(t)+8,'font-size':24,'text-anchor':'end'},fmt(t));
    
    
  });
  const frame = mk(g,'rect',{x:107.3,y:53.3,width:707.7,height:606,fill:'none',stroke:'#888','stroke-width':2});
  
  
  const colors = {LL:'#f67fba',LS:'#a2cbf0',SL:'#f58200',SS:'#49b94a'};
  const pale = {LL:'#fbdfee',LS:'#ebf4fc',SL:'#fde4cd',SS:'#d9f0d9'};
  const ellipses = {LL:pcaEllipseLL,LS:pcaEllipseLS,SL:pcaEllipseSL,SS:pcaEllipseSS};
  const points = {LL:pcaLL,LS:pcaLS,SL:pcaSL,SS:pcaSS};
  pcaGroups.forEach(k => {
    const e = ellipses[k];
    const x1=x(e[0]),y1=y(e[1]),x2=x(e[2]),y2=y(e[3]);
    const rx = Math.hypot(x2-x1,y2-y1)/2;
    const ry = e[4]*(x(1)-x(0));
    const ang = Math.atan2(y2-y1,x2-x1)*180/Math.PI;
    const cx=(x1+x2)/2, cy=(y1+y2)/2;
    const el = mk(g,'ellipse',{cx:cx,cy:cy,rx:rx,ry:ry,fill:pale[k],transform:'rotate('+ang+' '+cx+' '+cy+')'});
    
    
  });
  pcaGroups.forEach(k => {
    points[k].forEach(p => {
      const c = mk(g,'circle',{cx:x(p[0]),cy:y(p[1]),r:10.8,fill:colors[k]});
      
      
    });
  });
  const t1 = mk(g,'text',{x:472.5,y:732,'font-size':28,'text-anchor':'middle'},'PC1 (22.73%)');
  
  
  const t2 = mk(g,'text',{x:0,y:0,'font-size':28,'text-anchor':'middle',transform:'translate(29,351) rotate(-90)'},'PC2 (11.88%)');
  
  
  const lt = mk(g,'text',{x:839,y:78,'font-size':24},'Group');
  
  
  pcaGroups.forEach((k,i) => {
    const ly = 103.5 + i*36;
    const c = mk(g,'circle',{cx:851.5,cy:ly,r:13,fill:colors[k]});
    
    
    const t = mk(g,'text',{x:885.5,y:ly+9.5,'font-size':24},k);
    
    
  });
})();

// ---------- Panel B ----------
(function(){
  const g = document.getElementById('panelB');
  const x0 = 1106, y0 = 86, cell = 50.5, n = heatLabels.length;
  const low=[103,169,207], mid=[247,247,247], high=[239,138,98];
  function color(v){
    const a = v < 0.9968 ? low : high;
    const t = v < 0.9968 ? (0.9968-v)/(0.9968-0.9945) : (v-0.9968)/(1-0.9968);
    const c = mid.map((m,i)=>Math.round(m+(a[i]-m)*Math.min(1,t)));
    return 'rgb('+c.join(',')+')';
  }
  heatMatrix.forEach((row,r) => row.forEach((v,c) => {
    const cellEl = mk(g,'rect',{x:x0+c*cell,y:y0+r*cell,width:cell,height:cell,fill:color(v),stroke:'#eeeeee','stroke-width':1.6});
    
    
  }));
  heatLabels.forEach((l,i) => {
    const cy = y0 + (i+.5)*cell, cx = x0 + (i+.5)*cell;
    const a = mk(g,'text',{x:1721,y:cy+8,'font-size':24},l);
    
    
    const b = mk(g,'text',{x:0,y:0,'font-size':24,transform:'translate('+(cx-8)+',707) rotate(45)'},l);
    
    
  });
  const pos = [], lev = [];
  for (let i=0;i<n;i++){ pos[i]=i+.5; lev[i]=0; }
  dendroMerges.forEach((m,i) => {
    const a=m[0], b=m[1], h=m[2];
    const xa=x0+pos[a]*cell, xb=x0+pos[b]*cell, ya=y0+pos[a]*cell, yb=y0+pos[b]*cell;
    const top = mk(g,'path',{d:'M'+xa+' '+(84-lev[a])+'V'+(84-h)+'H'+xb+'V'+(84-lev[b]),fill:'none',stroke:'#333','stroke-width':2});
    
    
    const left = mk(g,'path',{d:'M'+(1104-lev[a])+' '+ya+'H'+(1104-h)+'V'+yb+'H'+(1104-lev[b]),fill:'none',stroke:'#333','stroke-width':2});
    
    
    pos[n+i]=(pos[a]+pos[b])/2; lev[n+i]=h;
  });
  const bar = mk(g,'rect',{x:1798,y:85,width:17,height:121,fill:'url(#cbGrad)'});
  
  
  const cy = linear(1,0.996,85,173.3);
  colorbarTicks.forEach(t => {
    const tick = mk(g,'line',{x1:1815,x2:1827,y1:cy(t),y2:cy(t),stroke:'#111','stroke-width':2});
    
    
    const lab = mk(g,'text',{x:1833,y:cy(t)+8,'font-size':24},t.toFixed(3));
    
    
  });
})();

// ---------- Panels C, D, E ----------
function drawVolcano(id, box, xs, ys, xTicks, yTicks, down, up, gray, titleLeft, titleRight, titleX, labelX, legendX, legendY, counts, yTitle){
  const g = document.getElementById(id);
  gray.forEach(p => {
    const c = mk(g,'circle',{cx:xs(p[0]),cy:ys(p[1]),r:5,fill:'#c4c4c4','fill-opacity':.9});
    
    
  });
  down.forEach(p => {
    const c = mk(g,'circle',{cx:xs(p[0]),cy:ys(p[1]),r:5,fill:'#2222cc','fill-opacity':.8});
    
    
  });
  up.forEach(p => {
    const c = mk(g,'circle',{cx:xs(p[0]),cy:ys(p[1]),r:5,fill:'#cc2222','fill-opacity':.8});
    
    
  });
  [-1,1].forEach(v => {
    const l = mk(g,'line',{x1:xs(v),x2:xs(v),y1:box[1],y2:box[3],stroke:'#222','stroke-width':3});
    
    
  });
  const h = mk(g,'line',{x1:box[0],x2:box[2],y1:ys(1.3),y2:ys(1.3),stroke:'#222','stroke-width':3});
  
  
  const frame = mk(g,'rect',{x:box[0],y:box[1],width:box[2]-box[0],height:box[3]-box[1],fill:'none',stroke:'#808080','stroke-width':4});
  
  
  xTicks.forEach(t => {
    const tick = mk(g,'line',{x1:xs(t),x2:xs(t),y1:box[3]+2,y2:box[3]+9,stroke:'#222','stroke-width':2});
    
    
    const lab = mk(g,'text',{x:xs(t),y:1427,'font-size':24,'text-anchor':'middle'},fmt(t));
    
    
  });
  yTicks.forEach(t => {
    const tick = mk(g,'line',{x1:box[0]-11,x2:box[0]-2,y1:ys(t),y2:ys(t),stroke:'#222','stroke-width':2});
    
    
    const lab = mk(g,'text',{x:box[0]-12,y:ys(t)+8,'font-size':24,'text-anchor':'end'},fmt(t));
    
    
  });
  const tt = mk(g,'text',{x:titleX,y:846,'font-size':35,'text-anchor':'middle'},titleLeft);
  
  
  const span = mk(tt,'tspan',{dx:-5},titleRight);
  
  
  const xl = mk(g,'text',{x:labelX,y:1456,'font-size':28,'text-anchor':'middle'},'Log2 FC');
  
  
  if (yTitle){
    const yl = mk(g,'text',{x:0,y:0,'font-size':28,'text-anchor':'middle',transform:'translate(54,1112) rotate(-90)'},yTitle);
    
    
  }
  const lt = mk(g,'text',{x:legendX,y:legendY+9,'font-size':28},'Statistics');
  
  
  const legendColors = ['#4a4ad6','#d64a4a','#cccccc'];
  counts.forEach((s,i) => {
    const ly = legendY + 33 + i*27.3;
    const c = mk(g,'circle',{cx:legendX+8,cy:ly,r:8,fill:legendColors[i]});
    
    
    const t = mk(g,'text',{x:legendX+30,y:ly+9,'font-size':28},s);
    
    
  });
}
drawVolcano('panelC',[120,858,658.5,1395],linear(-10,10,165.8,625.2),linear(0,200,1387.4,918.6),cXTicks,cYTicks,cDown,cUp,cGray,'LL',' vs LS',399.6,400.8,135,882,cCounts,'-Log10 FDR');
drawVolcano('panelD',[720.5,858,1260,1395],linear(-10,5,791,1140),linear(0,200,1387.4,927),dXTicks,dYTicks,dDown,dUp,dGray,'LL',' vs SL',1002,1002.4,733,887,dCounts,null);
drawVolcano('panelE',[1322,858,1861.5,1395],linear(-5,10,1435.3,1825.2),linear(0,250,1387.4,929.6),eXTicks,eYTicks,eDown,eUp,eGray,'LL',' vs SS',1602,1604.5,1676,888,eCounts,null);

// ---------- Panel F ----------
(function(){
  const g = document.getElementById('panelF');
  const y = linear(0,2000,2180,1616);
  const groupX = linear(0,2,386.7,790.5);
  const barW = 53.9;
  const series = [barTotal,barUp,barDownCounts];
  const colors = ['#e64b35','#4dbbd5','#00a087'];
  const keys = ['total','up','down'];
  barCategories.forEach((cat,i) => {
    series.forEach((s,k) => {
      const bx = groupX(i) + (k-1.5)*barW;
      const b = mk(g,'rect',{x:bx,y:y(s[i]),width:barW,height:y(0)-y(s[i]),fill:colors[k]});
      
      
      const t = mk(g,'text',{x:bx+barW/2+1,y:y(s[i])-11,'font-size':25.5,'text-anchor':'middle'},s[i]);
      
      
    });
    const tick = mk(g,'line',{x1:groupX(i),x2:groupX(i),y1:2181,y2:2193,stroke:'#222','stroke-width':2});
    
    
    const lab = mk(g,'text',{x:groupX(i)+4,y:2214,'font-size':28,'text-anchor':'middle'},cat);
    
    
  });
  const frame = mk(g,'rect',{x:265,y:1534,width:647.6,height:647,fill:'none',stroke:'#666','stroke-width':4});
  
  
  barYTicks.forEach(t => {
    if (t > 0){
      const tick = mk(g,'line',{x1:266,x2:277,y1:y(t),y2:y(t),stroke:'#222','stroke-width':2});
      
      
    }
    const lab = mk(g,'text',{x:257,y:y(t)+8,'font-size':27,'text-anchor':'end'},t);
    
    
  });
  const yt = mk(g,'text',{x:0,y:0,'font-size':28,'text-anchor':'middle',transform:'translate(166,1849) rotate(-90)'},'Number of DEGs');
  
  
  keys.forEach((k,i) => {
    const ly = 1544 + i*31.3;
    const sw = mk(g,'rect',{x:806.5,y:ly,width:28,height:27.5,fill:colors[i]});
    
    
    const t = mk(g,'text',{x:841.5,y:ly+21,'font-size':28},k);
    
    
  });
})();
</script>
</body>
</html>
